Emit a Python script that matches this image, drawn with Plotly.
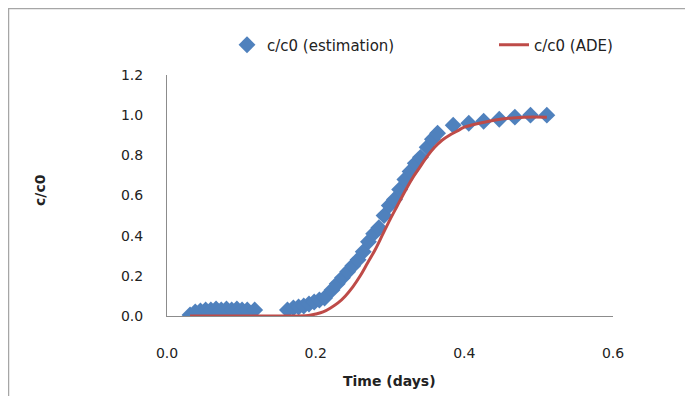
import plotly.graph_objects as go

# Estimated c/c0 data points
est_time = [0.031, 0.038, 0.045, 0.052, 0.059, 0.066, 0.073, 0.080, 0.087, 0.094, 0.101, 0.108, 0.118,
            0.162, 0.170, 0.177, 0.184, 0.191, 0.198, 0.205, 0.212, 0.222, 0.229, 0.236, 0.243, 0.250,
            0.257, 0.264, 0.271, 0.278, 0.285, 0.292, 0.299, 0.306, 0.313, 0.320, 0.327, 0.334, 0.341,
            0.350, 0.357, 0.364, 0.385, 0.406, 0.426, 0.447, 0.468, 0.489, 0.511]
est_c = [0.005, 0.02, 0.025, 0.03, 0.03, 0.035, 0.03, 0.035, 0.03, 0.035, 0.03, 0.03, 0.03,
         0.03, 0.04, 0.045, 0.05, 0.06, 0.07, 0.08, 0.09, 0.13, 0.16, 0.19, 0.22, 0.25,
         0.28, 0.32, 0.37, 0.41, 0.44, 0.50, 0.55, 0.58, 0.63, 0.68, 0.72, 0.76, 0.79,
         0.84, 0.88, 0.91, 0.95, 0.96, 0.97, 0.98, 0.99, 1.0, 1.0]

# ADE model curve
ade_time = [0.031, 0.10, 0.16, 0.19, 0.20, 0.21, 0.22, 0.23, 0.24, 0.25, 0.26, 0.27, 0.28, 0.29, 0.30,
            0.31, 0.32, 0.33, 0.34, 0.35, 0.36, 0.37, 0.38, 0.39, 0.40, 0.42, 0.44, 0.46, 0.48, 0.511]
ade_c = [0.0, 0.0, 0.0, 0.003, 0.01, 0.02, 0.04, 0.065, 0.10, 0.145, 0.20, 0.265, 0.33, 0.405, 0.48,
         0.55, 0.62, 0.685, 0.74, 0.795, 0.84, 0.875, 0.90, 0.92, 0.94, 0.96, 0.975, 0.985, 0.99, 0.99]

x_ticks = [0.0, 0.2, 0.4, 0.6]
x_tick_labels = ["0.0", "0.2", "0.4", "0.6"]
y_ticks = [0.0, 0.2, 0.4, 0.6, 0.8, 1.0, 1.2]
y_tick_labels = ["0.0", "0.2", "0.4", "0.6", "0.8", "1.0", "1.2"]

FONT = "'DejaVu Sans', Verdana, sans-serif"
TXT = "#222222"

# page offset introduced by the default body margin (8px)
OFF = 8
W, H = 693 - OFF, 396 - OFF
L, T, R, B = 167 - OFF, 75 - OFF, 80, 80


def px_x(px):
    return (px - 167) / 446


def px_y(py):
    return (316 - py) / 241


fig = go.Figure()
fig.add_trace(go.Scatter(
    x=est_time, y=est_c, mode="markers", name="c/c0 (estimation)",
    marker=dict(symbol="diamond", size=13, color="#4F81BD"), legend="legend",
))
fig.add_trace(go.Scatter(
    x=ade_time, y=ade_c, mode="lines", name="c/c0 (ADE)",
    line=dict(color="#BE4B48", width=3, shape="spline"), legend="legend2",
))

leg_common = dict(orientation="h", xref="container", yref="container",
                  xanchor="left", yanchor="middle",
                  font=dict(family=FONT, size=15, color=TXT), bgcolor="rgba(0,0,0,0)")

fig.update_layout(
    width=W, height=H,
    margin=dict(l=L, r=R, t=T, b=B, autoexpand=False),
    paper_bgcolor="white", plot_bgcolor="white",
    font=dict(family=FONT, size=14, color=TXT),
    showlegend=True,
    legend=dict(x=(227 - OFF) / W, y=1 - (45 - OFF) / H, **leg_common),
    legend2=dict(x=(494 - OFF) / W, y=1 - (45 - OFF) / H, **leg_common),
    xaxis=dict(range=[0, 0.6], tickvals=x_ticks, ticktext=x_tick_labels,
               showgrid=False, zeroline=False, showline=True, linecolor="#8c8c8c", linewidth=1,
               ticks="outside", ticklen=24, tickcolor="rgba(0,0,0,0)", fixedrange=True,
               automargin=False, tickfont=dict(family=FONT, size=14, color=TXT)),
    yaxis=dict(range=[0, 1.2], tickvals=y_ticks, ticktext=y_tick_labels,
               showgrid=False, zeroline=False, showline=True, linecolor="#8c8c8c", linewidth=1,
               ticks="outside", ticklen=20, tickcolor="rgba(0,0,0,0)", fixedrange=True,
               automargin=False, tickfont=dict(family=FONT, size=14, color=TXT)),
    annotations=[
        dict(text="<b>Time (days)</b>", xref="paper", yref="paper", x=px_x(389), y=px_y(381),
             showarrow=False, font=dict(family=FONT, size=14, color=TXT), xanchor="center", yanchor="middle"),
        dict(text="<b>c/c0</b>", xref="paper", yref="paper", x=px_x(40), y=px_y(190),
             showarrow=False, textangle=-90, font=dict(family=FONT, size=14, color=TXT),
             xanchor="center", yanchor="middle"),
    ],
    shapes=[
        dict(type="rect", xref="paper", yref="paper", x0=px_x(8.5), x1=px_x(730),
             y0=px_y(430), y1=px_y(8.5), line=dict(color="#a6a6a6", width=1.5),
             fillcolor="rgba(0,0,0,0)", layer="below"),
    ],
)

fig.write_html("out.html")
